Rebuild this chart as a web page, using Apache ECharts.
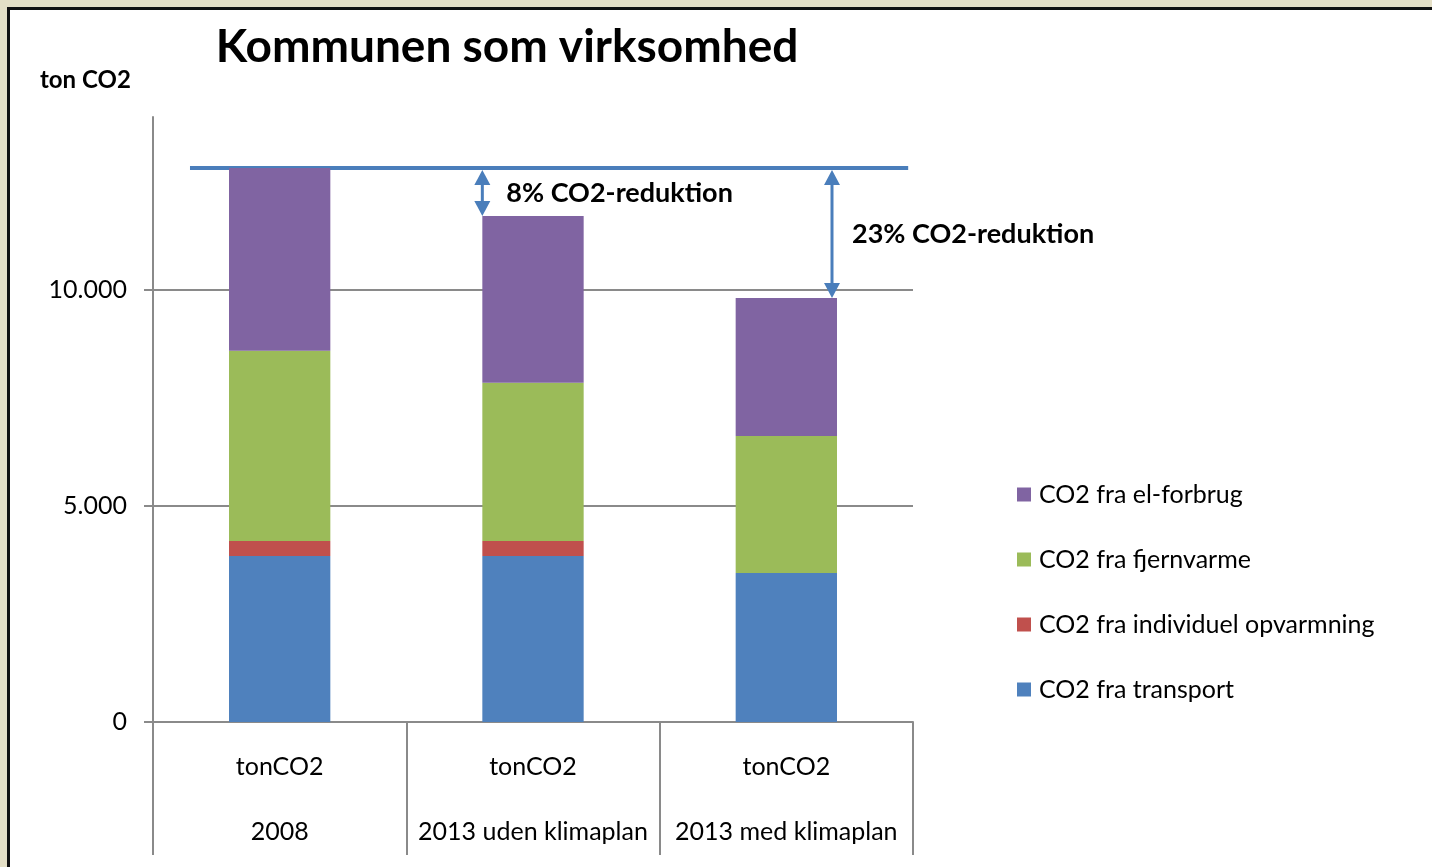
<!DOCTYPE html>
<html>
<head>
<meta charset="utf-8">
<title>Kommunen som virksomhed</title>
<script src="https://cdn.jsdelivr.net/npm/echarts@6/dist/echarts.min.js"></script>
<style>
  html, body { margin: 0; padding: 0; background: #E4DFC6; overflow: hidden; }
  #frame {
    position: absolute; left: 7px; top: 7px; width: 1440px; height: 880px;
    background: #fff; border-left: 3px solid #111; border-top: 3px solid #111;
  }
  #chart { position: absolute; left: 0; top: 0; width: 1432px; height: 867px; }
</style>
</head>
<body>
<div id="frame"></div>
<div id="chart"></div>
<script>
const fontFamily = 'Lato, "Open Sans", sans-serif'
const textColor = '#000'
const axisGray = '#8a8a8a'
const blue = '#4A7EBB'

// data
const categories = ['2008', '2013 uden klimaplan', '2013 med klimaplan']
const unitLabel = 'tonCO2'
const transport = [3840, 3840, 3450]
const individuel = [350, 350, 0]
const fjernvarme = [4400, 3660, 3170]
const elForbrug = [4230, 3860, 3190]
const yTicks = [0, 5000, 10000]
const reductionLabels = ['8% CO2-reduktion', '23% CO2-reduktion']

const seriesNames = [
  'CO2 fra transport',
  'CO2 fra individuel opvarmning',
  'CO2 fra fjernvarme',
  'CO2 fra el-forbrug',
]
const seriesColors = ['#4F81BD', '#C0504D', '#9BBB59', '#8064A2']
const seriesValues = [transport, individuel, fjernvarme, elForbrug]

const chart = echarts.init(document.getElementById('chart'))

const option = {
  animation: false,
  textStyle: { fontFamily: fontFamily },
  title: [
    {
      text: 'Kommunen som virksomhed',
      left: 507,
      textAlign: 'center',
      top: 24,
      padding: 0,
      textStyle: { fontSize: 46, fontWeight: 'bold', color: textColor, fontFamily: fontFamily },
    },
    {
      text: 'ton CO2',
      left: 40,
      top: 68,
      padding: 0,
      textStyle: { fontSize: 24, fontWeight: 'bold', color: textColor, fontFamily: fontFamily },
    },
  ],
  grid: { left: 153, right: 519, top: 117, bottom: 145, containLabel: false },
  legend: {
    orient: 'vertical',
    left: 1017,
    top: 482,
    padding: 0,
    itemWidth: 14,
    itemHeight: 14,
    itemGap: 40,
    icon: 'rect',
    data: seriesNames.slice().reverse(),
    textStyle: { fontSize: 25, lineHeight: 22, color: textColor, fontFamily: fontFamily, padding: [0, 0, 0, 3] },
  },
  xAxis: {
    type: 'category',
    data: categories,
    axisLine: { lineStyle: { color: axisGray, width: 2 } },
    axisTick: { show: true, interval: 0, length: 133, lineStyle: { color: axisGray, width: 2 } },
    axisLabel: {
      interval: 0,
      margin: 12,
      fontSize: 25,
      lineHeight: 65,
      color: textColor,
      formatter: (v) => unitLabel + '\n' + v,
    },
  },
  yAxis: {
    type: 'value',
    min: 0,
    max: 14000,
    interval: 5000,
    axisLine: { show: true, lineStyle: { color: axisGray, width: 2 } },
    axisTick: { show: true, length: 9, customValues: yTicks, lineStyle: { color: axisGray, width: 2 } },
    axisLabel: {
      customValues: yTicks,
      margin: 26,
      fontSize: 25,
      color: textColor,
      formatter: (v) => String(v).replace(/\B(?=(\d{3})+(?!\d))/g, '.'),
    },
    splitLine: {
      lineStyle: { color: [axisGray, axisGray, axisGray, 'rgba(0,0,0,0)'], width: 2 },
    },
  },
  series: seriesNames.map((name, i) => ({
    name: name,
    type: 'bar',
    stack: 'total',
    barWidth: '40%',
    data: seriesValues[i],
    itemStyle: { color: seriesColors[i] },
  })),
}

chart.setOption(option)

// annotations: reference line at the 2008 total and reduction arrows
const totals = categories.map((_, c) => seriesValues.reduce((s, arr) => s + arr[c], 0))
const yPx = (v) => chart.convertToPixel({ yAxisIndex: 0 }, v)
const xPx = (c) => chart.convertToPixel({ xAxisIndex: 0 }, c)
const band = xPx(1) - xPx(0)
const barW = band * 0.4
const baseY = yPx(totals[0])

function arrow(x, y1, y2) {
  const h = 15, w = 8
  return [
    { type: 'line', shape: { x1: x, y1: y1 + h - 2, x2: x, y2: y2 - h + 2 }, style: { stroke: blue, lineWidth: 3 } },
    { type: 'polygon', shape: { points: [[x, y1], [x - w, y1 + h], [x + w, y1 + h]] }, style: { fill: blue } },
    { type: 'polygon', shape: { points: [[x, y2], [x - w, y2 - h], [x + w, y2 - h]] }, style: { fill: blue } },
  ]
}

const a1x = xPx(1) - barW / 2
const a2x = xPx(2) + barW / 2 - 5
const graphics = [
  {
    type: 'line',
    shape: { x1: xPx(0) - band * 0.354, y1: baseY, x2: xPx(2) + band * 0.481, y2: baseY },
    style: { stroke: blue, lineWidth: 4 },
  },
  ...arrow(a1x, baseY + 2, yPx(totals[1])),
  ...arrow(a2x, baseY + 2, yPx(totals[2])),
  {
    type: 'text', x: a1x + 24, y: baseY + 25,
    style: { text: reductionLabels[0], font: 'bold 27px ' + fontFamily, fill: textColor, verticalAlign: 'middle' },
  },
  {
    type: 'text', x: a2x + 20, y: baseY + 66,
    style: { text: reductionLabels[1], font: 'bold 27px ' + fontFamily, fill: textColor, verticalAlign: 'middle' },
  },
]
chart.setOption({ graphic: graphics })

window.addEventListener('resize', () => chart.resize())
</script>
</body>
</html>
